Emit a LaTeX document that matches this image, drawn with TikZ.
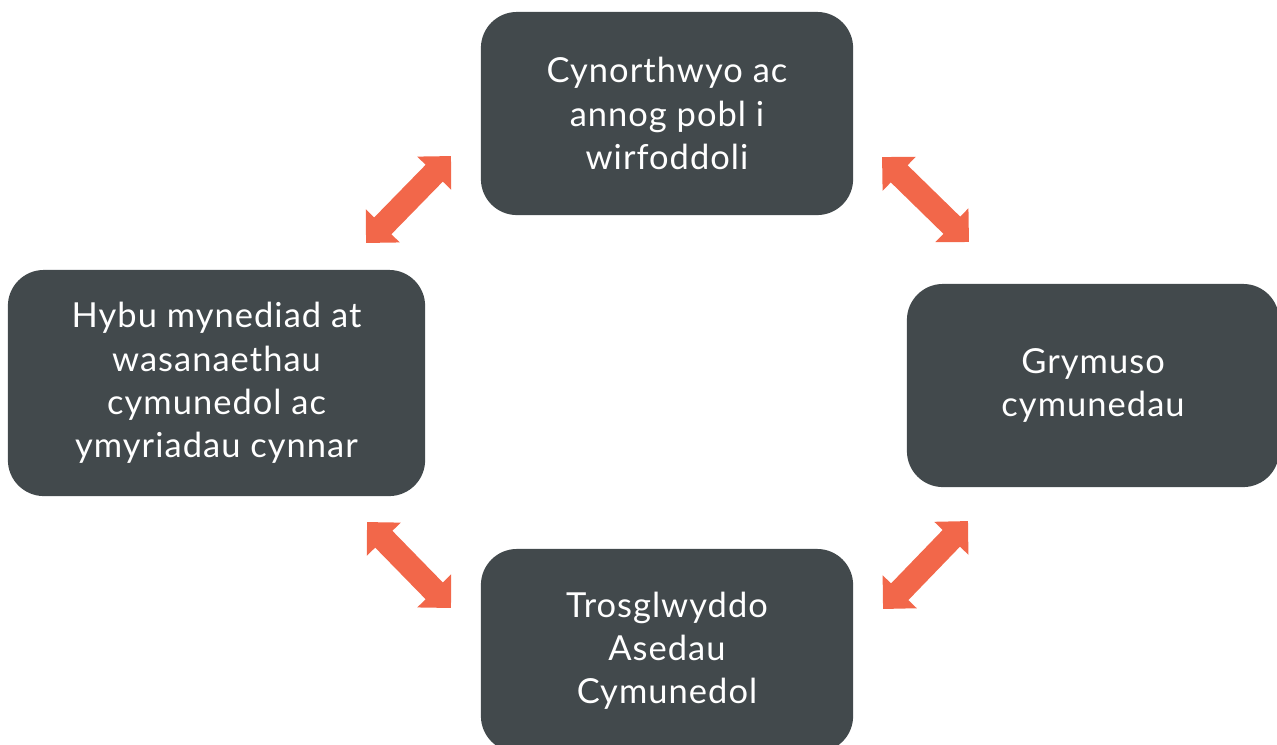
\documentclass[tikz,border=0pt]{standalone}
\usepackage{fontspec}
\setmainfont[LetterSpace=3]{Lato}
\usetikzlibrary{arrows.meta}
\definecolor{boxgrey}{HTML}{42494C}
\definecolor{arroworange}{HTML}{F2674A}

\begin{document}
\begin{tikzpicture}[x=0.01cm,y=-0.01cm,
  aim/.style={rectangle,rounded corners=0.36cm,fill=boxgrey,text=white,align=center,
    inner sep=0pt,font=\fontsize{9.8}{12.3}\selectfont},
  link/.style={arroworange,line width=0.24cm,
    {Triangle[width=0.46cm,length=0.24cm]}-{Triangle[width=0.46cm,length=0.24cm]}}]
\useasboundingbox (0,0) rectangle (1277,744);
% the four boxes
\node[aim,minimum width=3.72cm,minimum height=2.03cm] (gwirfoddoli) at (667,113.5) {Cynorthwyo ac\\annog pobl i\\wirfoddoli};
\node[aim,minimum width=4.17cm,minimum height=2.26cm] (mynediad) at (216.5,383) {Hybu mynediad at\\wasanaethau\\cymunedol ac\\ymyriadau cynnar};
\node[aim,minimum width=3.72cm,minimum height=2.03cm] (grymuso) at (1093,385.5) {Grymuso\\cymunedau};
\node[aim,minimum width=3.72cm,minimum height=2.03cm] (asedau) at (667,650.5) {Trosglwyddo\\Asedau\\Cymunedol};
% arrow ends
\coordinate (tl1) at (366,243);
\coordinate (tl2) at (451,156);
\coordinate (tr1) at (882,157);
\coordinate (tr2) at (969,242);
\coordinate (bl1) at (367,522);
\coordinate (bl2) at (451,608);
\coordinate (br1) at (883,609);
\coordinate (br2) at (968,521);
\draw[link] (tl1) -- (tl2);
\draw[link] (tr1) -- (tr2);
\draw[link] (bl1) -- (bl2);
\draw[link] (br1) -- (br2);
\end{tikzpicture}
\end{document}
